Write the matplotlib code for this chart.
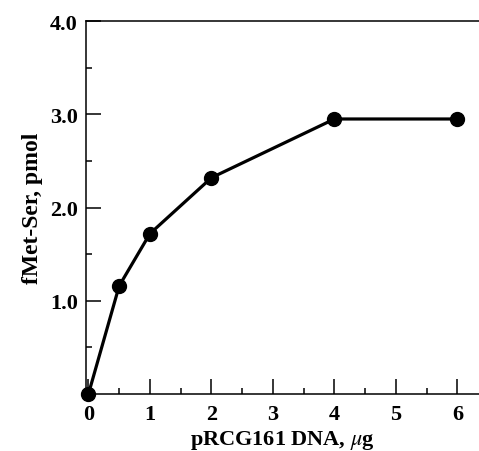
import matplotlib
matplotlib.use('Agg')
import matplotlib.pyplot as plt
from matplotlib.ticker import MultipleLocator

# data
dna_ug = [0, 0.5, 1, 2, 4, 6]
fmet_ser = [0.0, 1.16, 1.72, 2.32, 2.95, 2.95]
x_ticks = [0, 1, 2, 3, 4, 5, 6]
y_ticks = [1.0, 2.0, 3.0, 4.0]
y_tick_labels = ['1.0', '2.0', '3.0', '4.0']

plt.rcParams['font.family'] = ['Liberation Serif', 'DejaVu Serif']
plt.rcParams['mathtext.fontset'] = 'stix'


def main():
	fig = plt.figure(figsize=(4.79, 4.52), dpi=100)
	ax = fig.add_axes([0.1795, 0.1261, 0.8205, 0.825])

	ax.plot(dna_ug, fmet_ser, color='black', linewidth=2.3, marker='o',
		markersize=10, clip_on=False, zorder=3)

	ax.set_xlim(-0.04, 6.35)
	ax.set_ylim(0, 4.0)
	ax.set_xticks(x_ticks)
	ax.set_xticklabels([str(t) for t in x_ticks])
	ax.set_yticks(y_ticks)
	ax.set_yticklabels(y_tick_labels)
	ax.xaxis.set_minor_locator(MultipleLocator(0.5))
	ax.yaxis.set_minor_locator(MultipleLocator(0.5))

	ax.spines['right'].set_visible(False)
	for s in ['left', 'bottom', 'top']:
		ax.spines[s].set_linewidth(1.1)

	ax.tick_params(which='both', direction='in', width=1.1, top=False, right=False)
	ax.tick_params(which='major', length=11)
	ax.tick_params(which='minor', length=4.5)
	ax.tick_params(axis='x', which='major', pad=7, labelsize=16)
	ax.tick_params(axis='y', which='major', pad=6, labelsize=16)
	for lbl in ax.get_xticklabels() + ax.get_yticklabels():
		lbl.set_fontweight('bold')

	ax.set_xlabel(r'pRCG161 DNA, $\mu$g', fontsize=16, fontweight='bold', labelpad=3)
	ax.set_ylabel('fMet-Ser, pmol', fontsize=17, fontweight='bold', labelpad=5)

	fig.savefig('out.png', dpi=100)


if __name__ == '__main__':
	main()
